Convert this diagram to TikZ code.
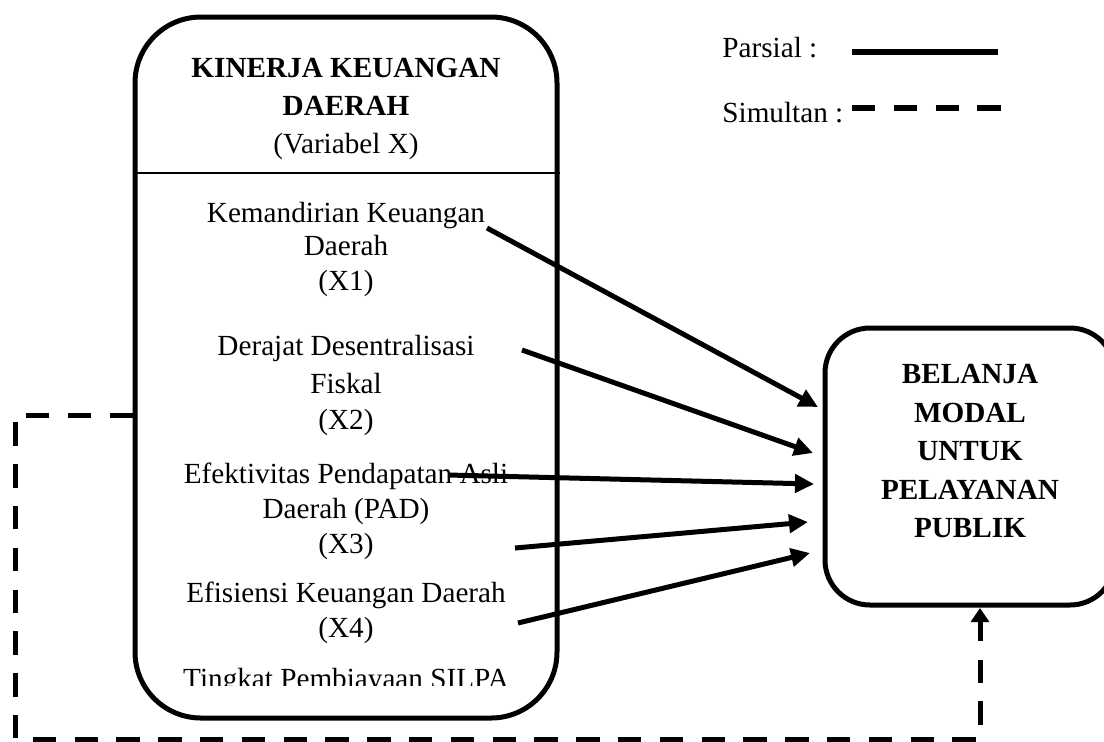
\documentclass[tikz,border=0pt]{standalone}
\usepackage{fontspec}
\setmainfont{Liberation Serif}
\usetikzlibrary{arrows.meta}
\tikzset{
  txt/.style={font=\fontsize{14.6}{17}\selectfont, inner sep=0pt, anchor=base},
  btxt/.style={txt, font=\fontsize{14.6}{17}\selectfont\bfseries},
  bigbox/.style={draw, line width=2.5pt, inner sep=0pt},
  parsial/.style={line width=2.5pt, -{Triangle[length=9.5pt,width=9pt]}},
  simultan/.style={line width=2.5pt, dash pattern=on 11.7pt off 9.2pt},
  simarrow/.style={simultan, -{Triangle[length=7pt,width=9pt]}},
  legsolid/.style={line width=3.2pt},
  legdash/.style={line width=3.2pt, dash pattern=on 11.7pt off 9.2pt},
}
\begin{document}
\begin{tikzpicture}[x=0.5pt, y=-0.5pt]
\useasboundingbox (0,0) rectangle (1104,741);

% left box
\node[bigbox, rounded corners=33pt, minimum width=211pt, minimum height=350.5pt] (kbox) at (346,367.5) {};
\draw[line width=1.3pt] (kbox.west |- 0,173) -- (kbox.east |- 0,173);

% right box
\node[bigbox, rounded corners=22.5pt, minimum width=145pt, minimum height=138.5pt] (bbox) at (970,466.5) {};

% title texts
\node[btxt] (t1) at (346,77) {KINERJA KEUANGAN};
\node[btxt] (t2) at (346,115) {DAERAH};
\node[txt] (t3) at (346,153) {(Variabel X)};

\node[txt] (x1a) at (346,222) {Kemandirian Keuangan};
\node[txt] (x1b) at (346,255) {Daerah};
\node[txt] (x1c) at (346,290) {(X1)};

\node[txt] (x2a) at (346,355) {Derajat Desentralisasi};
\node[txt] (x2b) at (346,393) {Fiskal};
\node[txt] (x2c) at (346,429) {(X2)};

\node[txt] (x3a) at (346,483) {Efektivitas Pendapatan Asli};
\node[txt] (x3b) at (346,518) {Daerah (PAD)};
\node[txt] (x3c) at (346,553) {(X3)};

\node[txt] (x4a) at (346,602) {Efisiensi Keuangan Daerah};
\node[txt] (x4b) at (346,637) {(X4)};

\begin{scope}
\clip (140,640) rectangle (552,685);
\node[txt] (x5a) at (346,688) {Tingkat Pembiayaan SILPA};
\end{scope}

% right box text
\node[btxt] (y1) at (970,383) {BELANJA};
\node[btxt] (y2) at (970,422) {MODAL};
\node[btxt] (y3) at (970,460) {UNTUK};
\node[btxt] (y4) at (970,499) {PELAYANAN};
\node[btxt] (y5) at (970,537) {PUBLIK};

% legend
\node[txt, anchor=base west] (lp) at (722,57) {Parsial :};
\node[txt, anchor=base west] (ls) at (722,122) {Simultan :};
\coordinate (lp1) at (852,52);
\coordinate (lp2) at (998,52);
\coordinate (ls1) at (852,108);
\coordinate (ls2) at (1002,108);
\draw[legsolid] (lp1) -- (lp2);
\draw[legdash] (ls1) -- (ls2);

% partial arrows
\coordinate (a1s) at (487,228);  \coordinate (a1e) at (818,407);
\coordinate (a2s) at (522,350);  \coordinate (a2e) at (813,453);
\coordinate (a3s) at (448,475);  \coordinate (a3e) at (814,484);
\coordinate (a4s) at (515,548);  \coordinate (a4e) at (808,522);
\coordinate (a5s) at (518,623);  \coordinate (a5e) at (810,553);
\draw[parsial] (a1s) -- (a1e);
\draw[parsial] (a2s) -- (a2e);
\draw[parsial] (a3s) -- (a3e);
\draw[parsial] (a4s) -- (a4e);
\draw[parsial] (a5s) -- (a5e);

% simultaneous dashed connector
\coordinate (s0) at (133,415);
\coordinate (s1) at (15,415);
\coordinate (s2) at (15,739);
\coordinate (s3) at (980,739);
\coordinate (s4) at (980,608);
\draw[simarrow] (s0) -- (s1) -- (s2) -- (s3) -- (s4);
\end{tikzpicture}
\end{document}
